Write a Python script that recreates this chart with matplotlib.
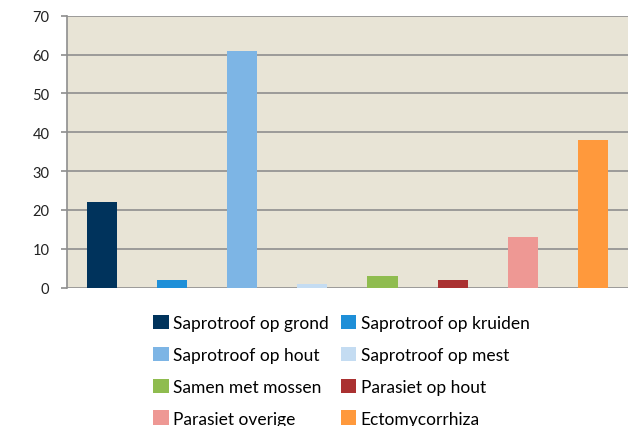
import matplotlib
matplotlib.use("Agg")
import matplotlib.pyplot as plt
from matplotlib.patches import Patch

categories = ["Saprotroof op grond", "Saprotroof op kruiden", "Saprotroof op hout",
              "Saprotroof op mest", "Samen met mossen", "Parasiet op hout",
              "Parasiet overige", "Ectomycorrhiza"]
values = [22, 2, 61, 1, 3, 2, 13, 38]
colors = ["#00335C", "#1E8FD8", "#7DB5E5", "#C4DCF2", "#8FBC4F", "#AA3131",
          "#EE9894", "#FF993C"]
yticks = [0, 10, 20, 30, 40, 50, 60, 70]

plt.rcParams['font.family'] = ['Lato', 'DejaVu Sans']

fig = plt.figure(figsize=(6.29, 4.27), dpi=100)
W, H = 629, 427
ax = fig.add_axes([66.7 / W, (H - 288.7) / H, (628 - 66.7) / W, (288.7 - 16.7) / H])
ax.set_facecolor("#E8E4D6")

x = list(range(len(values)))
ax.bar(x, values, width=0.43, color=colors, zorder=3)
ax.set_xlim(-0.5, len(values) - 0.5)
ax.set_ylim(0, 70)
ax.set_yticks(yticks)
ax.set_xticks([])
ax.yaxis.grid(True, color="#8E8E8E", linewidth=1.2, zorder=1)
ax.set_axisbelow(True)
for s in ["top", "right", "bottom"]:
    ax.spines[s].set_visible(False)
ax.spines["left"].set_color("#8E8E8E")
ax.spines["left"].set_linewidth(1.2)
ax.tick_params(axis="y", length=4.5, width=1.2, color="#8E8E8E", pad=8,
               labelsize=10.5, labelcolor="#222222")

handles = [Patch(facecolor=c, edgecolor="none") for c in colors]
# row-major order for a 2-column legend
order = [0, 2, 4, 6, 1, 3, 5, 7]
fig.legend([handles[i] for i in order], [categories[i] for i in order], ncol=2,
           loc="upper left", bbox_to_anchor=(146 / W, 1 - 309 / H), frameon=False,
           fontsize=12.5, handlelength=0.9, handleheight=0.9, handletextpad=0.25,
           columnspacing=0.7, labelspacing=0.9, borderaxespad=0)

fig.savefig("out.png", dpi=100)
